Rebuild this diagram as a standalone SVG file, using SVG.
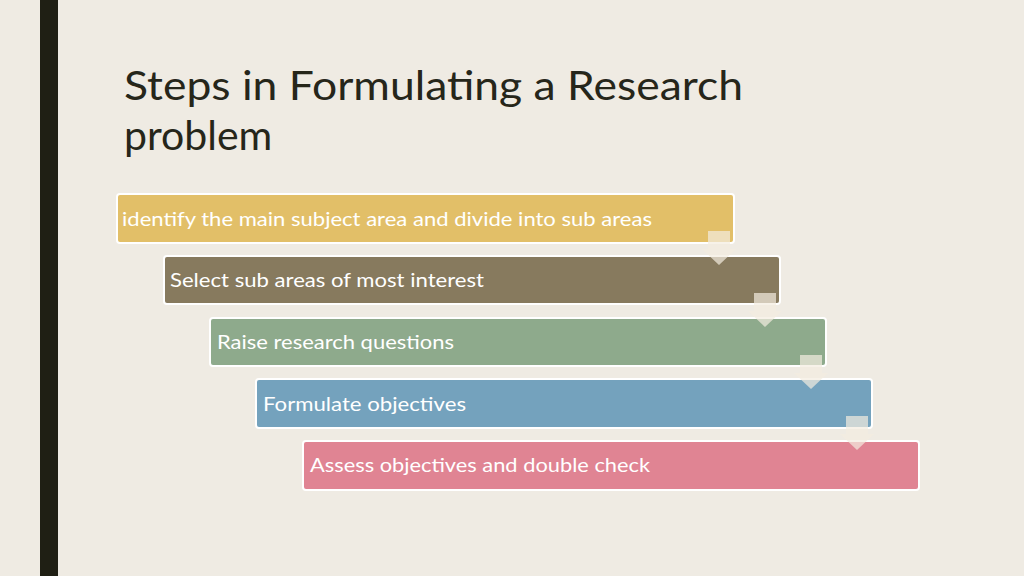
<svg xmlns="http://www.w3.org/2000/svg" width="1024" height="576" viewBox="0 0 1024 576">
<style>
.t{font-family:Lato,"Open Sans",sans-serif;fill:#fff;font-size:20px}
.b{stroke:#fff;stroke-width:2}
.a{fill:#f4ede0;opacity:0.7}
.h{font-family:Lato,"Open Sans",sans-serif;fill:#26261a;font-size:41px}
</style>
<defs><path id="arr" d="M-11,0 H11 V18 H17 L0,34 L-17,18 H-11 Z"/></defs>
<rect width="1024" height="576" fill="#efebe3"/>
<rect x="40" y="0" width="18" height="576" fill="#1f1f14"/>
<text class="h" x="124" y="100" textLength="619" lengthAdjust="spacingAndGlyphs">Steps in Formulating a Research</text>
<text class="h" x="124" y="150">problem</text>
<g id="n1"><rect class="b" x="117" y="194" width="617" height="49" rx="3" fill="#e2bf68"/><text class="t" x="122" y="226" textLength="530" lengthAdjust="spacingAndGlyphs">identify the main subject area and divide into sub areas</text></g>
<g id="n2"><rect class="b" x="164" y="256" width="616" height="48" rx="3" fill="#877a5e"/><text class="t" x="170" y="287" textLength="314" lengthAdjust="spacingAndGlyphs">Select sub areas of most interest</text></g>
<g id="n3"><rect class="b" x="210" y="318" width="616" height="48" rx="3" fill="#8eaa8c"/><text class="t" x="217" y="349" textLength="237" lengthAdjust="spacingAndGlyphs">Raise research questions</text></g>
<g id="n4"><rect class="b" x="256" y="379" width="616" height="49" rx="3" fill="#74a2bd"/><text class="t" x="263" y="411" textLength="203" lengthAdjust="spacingAndGlyphs">Formulate objectives</text></g>
<g id="n5"><rect class="b" x="303" y="441" width="616" height="49" rx="3" fill="#e08493"/><text class="t" x="310" y="472" textLength="340" lengthAdjust="spacingAndGlyphs">Assess objectives and double check</text></g>
<g id="connectors">
<use href="#arr" class="a" x="719" y="231"/>
<use href="#arr" class="a" x="765" y="293"/>
<use href="#arr" class="a" x="811" y="355"/>
<use href="#arr" class="a" x="857" y="416"/>
</g>
</svg>
